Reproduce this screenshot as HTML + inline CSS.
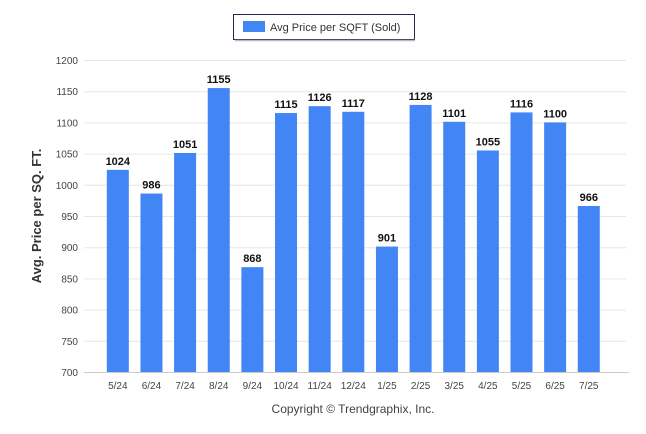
<!DOCTYPE html>
<html><head><meta charset="utf-8"><style>
body{margin:0;background:#fff;width:646px;height:434px;overflow:hidden;font-family:"Liberation Sans",sans-serif}
</style></head><body>
<svg id="chart" width="646" height="434" style="position:absolute;left:0;top:0">
<g>
<rect x="233.5" y="14.5" width="181" height="25" fill="#fff" stroke="#1f2b4d" stroke-width="1"/>
<line x1="235" y1="40.5" x2="415" y2="40.5" stroke="#bbb" stroke-width="1.5"/>
<rect x="243" y="21" width="22" height="11" fill="#4285f4"/>
<text x="270" y="31" font-size="11" fill="#333">Avg Price per SQFT (Sold)</text>
</g>
<g id="grid"></g><g id="bars"></g><g id="labels"></g>
<text x="0" y="0" transform="translate(41,216) rotate(-90)" text-anchor="middle" font-size="13" font-weight="bold" fill="#333">Avg. Price per SQ. FT.</text>
<text x="353" y="413" text-anchor="middle" font-size="12" fill="#444">Copyright © Trendgraphix, Inc.</text>
</svg>
<script>
const categories=["5/24","6/24","7/24","8/24","9/24","10/24","11/24","12/24","1/25","2/25","3/25","4/25","5/25","6/25","7/25"];
const values=[1024,986,1051,1155,868,1115,1126,1117,901,1128,1101,1055,1116,1100,966];
const ticks=[700,750,800,850,900,950,1000,1050,1100,1150,1200];
const NS="http://www.w3.org/2000/svg";
const yMin=700,yMax=1200,plotTop=60,plotBot=372,x0=101,step=33.64,bw=22;
const yS=v=>plotBot-(v-yMin)/(yMax-yMin)*(plotBot-plotTop);
const xc=i=>x0+step*(i+0.5);
function mk(t,a,p){const e=document.createElementNS(NS,t);for(const k in a)e.setAttribute(k,a[k]);p.appendChild(e);return e;}
const g=document.getElementById('grid'),b=document.getElementById('bars'),l=document.getElementById('labels');
ticks.forEach(t=>{
 const ln=mk('line',{x1:84,x2:626,y1:yS(t)+0.5,y2:yS(t)+0.5,stroke:'#e6e6e6'},g);
 
 
 const tx=mk('text',{x:78,y:yS(t)+4,'text-anchor':'end','font-size':'10',fill:'#444'},g);
 tx.textContent=t;
 
 
});
const ax=mk('line',{x1:84,x2:629,y1:plotBot+0.5,y2:plotBot+0.5,stroke:'#ccc'},g);


categories.forEach((c,i)=>{
 const r=mk('rect',{x:xc(i)-bw/2,y:yS(values[i]),width:bw,height:plotBot-yS(values[i]),fill:'#4285f4'},b);
 
 
 const v=mk('text',{x:xc(i),y:yS(values[i])-5,'text-anchor':'middle','font-size':'11','font-weight':'bold',fill:'#111'},l);
 v.textContent=values[i];
 
 
 const t=mk('text',{x:xc(i),y:plotBot+17,'text-anchor':'middle','font-size':'10',fill:'#444'},l);
 t.textContent=c;
 
 
});
</script>
</body></html>
